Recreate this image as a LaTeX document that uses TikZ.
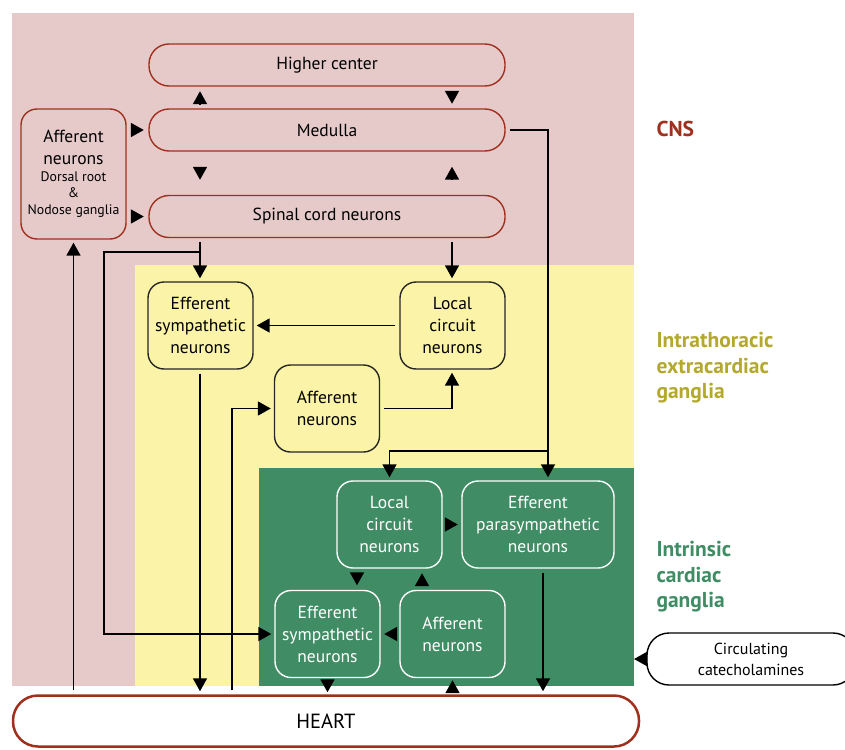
\documentclass[tikz,border=0pt]{standalone}
\usepackage{fontspec}
\setmainfont{PT Sans}
\usetikzlibrary{arrows.meta}
\definecolor{cnspink}{HTML}{E6CACA}
\definecolor{iteyellow}{HTML}{FBF4A8}
\definecolor{icggreen}{HTML}{408C64}
\definecolor{cnsred}{HTML}{A0301E}
\definecolor{iteolive}{HTML}{B3A92E}
\newcommand{\smalltxt}{\fontsize{13.8}{15}\selectfont}
\tikzset{
  area/.style={anchor=north west, inner sep=0pt, outer sep=0pt, draw=none},
  cnsbox/.style={draw=cnsred, line width=1.4pt, rounded corners=20pt, minimum width=356pt, minimum height=42pt, font=\fontsize{17.5}{22}\selectfont},
  itebox/.style={draw=black!85, line width=1.4pt, rounded corners=16pt, minimum width=105pt, minimum height=87pt, inner sep=1pt, align=center, font=\fontsize{17.5}{22}\selectfont},
  icgbox/.style={itebox, draw=white, text=white},
  arr/.style={line width=1.8pt, -{Triangle[length=13pt,width=14pt]}, shorten <=4pt, shorten >=3pt},
  tipgap/.style={line width=1.8pt, -{Triangle[length=13pt,width=14pt]}, shorten <=#1, shorten >=#1},
  zonelabel/.style={anchor=west, align=left, font=\bfseries\fontsize{21.5}{25.5}\selectfont}
}
\begin{document}
\begin{tikzpicture}[x=1pt,y=-1pt]
\path[use as bounding box, fill=white] (0,0) rectangle (845,749);
\node[area, fill=cnspink, minimum width=622pt, minimum height=673pt] (cnsbg) at (12,13) {};
\node[area, fill=iteyellow, minimum width=499pt, minimum height=421pt] (itebg) at (135,265) {};
\node[area, fill=icggreen, minimum width=375pt, minimum height=218pt] (icgbg) at (259,468) {};
\coordinate (xl) at (200,0);
\coordinate (xr) at (452,0);
\coordinate (xh) at (232,0);
\coordinate (xm) at (548,0);
\coordinate (xp) at (543,0);
\coordinate (xg1) at (357,0);
\coordinate (xg2) at (422,0);
\coordinate (sb) at (200,252);
\coordinate (mb) at (548,451);
\node[cnsbox] (higher) at (327,65) {Higher center};
\node[cnsbox] (medulla) at (327,130) {Medulla};
\node[cnsbox] (spinal) at (327,216.5) {Spinal cord neurons};
\node[cnsbox, minimum width=105pt, minimum height=130pt, rounded corners=16pt, inner sep=1pt, align=center] (affcns) at (73.5,174)
  {Afferent\\neurons\\[-5pt]{\smalltxt Dorsal root}\\[-6pt]{\smalltxt \&}\\[-5pt]{\smalltxt Nodose ganglia}};
\node[itebox] (ysym) at (200.5,325.5) {Efferent\\sympathetic\\neurons};
\node[itebox] (yloc) at (452.5,325.5) {Local\\circuit\\neurons};
\node[itebox] (yaff) at (327,408.5) {Afferent\\neurons};
\node[icgbox] (gloc) at (389.5,524.5) {Local\\circuit\\neurons};
\node[icgbox, minimum width=152pt] (gpara) at (538,524.5) {Efferent\\parasympathetic\\neurons};
\node[icgbox] (gsym) at (327.5,634) {Efferent\\sympathetic\\neurons};
\node[icgbox] (gaff) at (452.5,634) {Afferent\\neurons};
\node[draw=cnsred, line width=2.5pt, fill=white, rounded corners=25pt, minimum width=626pt, minimum height=51pt, font=\fontsize{20.5}{22}\selectfont] (heart) at (326,721) {HEART};
\node[draw=black, line width=1.4pt, fill=white, rounded corners=22pt, minimum width=208pt, minimum height=52pt, align=center, font=\fontsize{16}{21}\selectfont] (circ) at (751,659) {Circulating\\catecholamines};
\node[zonelabel, text=cnsred] (cnslbl) at (653,129) {CNS};
\node[zonelabel, text=iteolive] (itelbl) at (653,368) {Intrathoracic\\extracardiac\\ganglia};
\node[zonelabel, text=icggreen] (icglbl) at (653,577) {Intrinsic\\cardiac\\ganglia};
\draw[tipgap=4.5pt] (medulla.north -| xl) -- (higher.south -| xl);
\draw[tipgap=4.5pt] (higher.south -| xr) -- (medulla.north -| xr);
\draw[tipgap=15pt] (medulla.south -| xl) -- (spinal.north -| xl);
\draw[tipgap=15pt] (spinal.north -| xr) -- (medulla.south -| xr);
\draw[tipgap=4.5pt] (affcns.east |- medulla) -- (medulla.west);
\draw[tipgap=4.5pt] (affcns.east |- spinal) -- (spinal.west);
\draw[arr] (spinal.south -| xl) -- (ysym.north -| xl);
\draw[arr, shorten <=0pt] (sb) -- ++(-96,0) |- (gsym.west);
\draw[arr] (spinal.south -| xr) -- (yloc.north -| xr);
\draw[arr] (yloc.west) -- (ysym.east);
\draw[arr] (yaff.east) -| (yloc.south -| xr);
\draw[arr] (ysym.south -| xl) -- (heart.north -| xl);
\draw[arr] (heart.north -| affcns.south) -- (affcns.south);
\draw[arr] (heart.north -| xh) |- (yaff.west);
\draw[arr] (medulla.east) -| (gpara.north -| xm);
\draw[arr, shorten <=0pt] (mb) -| (gloc.north);
\draw[tipgap=3.5pt] (gloc.east) -- (gpara.west);
\draw[tipgap=4.5pt] (gloc.south -| xg1) -- (gsym.north -| xg1);
\draw[tipgap=4.5pt] (gaff.north -| xg2) -- (gloc.south -| xg2);
\draw[tipgap=3.5pt] (gaff.west) -- (gsym.east);
\draw[tipgap=2pt] (gsym.south) -- (heart.north -| gsym.south);
\draw[tipgap=2pt] (heart.north -| gaff.south) -- (gaff.south);
\draw[arr] (gpara.south -| xp) -- (heart.north -| xp);
\draw[arr, shorten >=0pt, shorten <=0pt] (circ.west) -- (icgbg.east |- circ.west);
\end{tikzpicture}
\end{document}
